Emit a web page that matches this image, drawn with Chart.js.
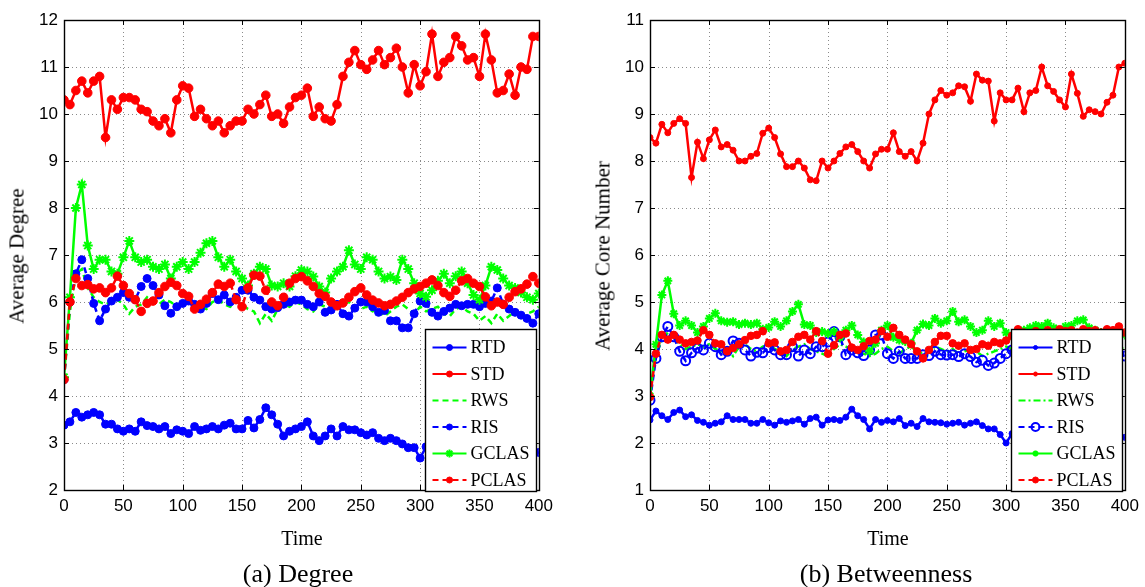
<!DOCTYPE html>
<html>
<head>
<meta charset="utf-8">
<title>Average Degree / Average Core Number</title>
<script src="https://cdn.jsdelivr.net/npm/chart.js"></script>
<style>
  body { margin: 0; background: #fff; }
  #wrap { position: relative; width: 1145px; height: 587px; overflow: hidden; font-family: "Liberation Serif", "Times New Roman", serif; color: #000; }
  canvas { position: absolute; top: 0; }
  .lbl { position: absolute; white-space: nowrap; transform: translate(-50%, -50%); }
  .ylbl { transform: translate(-50%, -50%) rotate(-90deg); }
</style>
</head>
<body>
<div id="wrap">
  <canvas id="degreeChart" width="559" height="587" style="left:0"></canvas>
  <canvas id="betweenChart" width="559" height="587" style="left:586px"></canvas>

  <div class="lbl ylbl" style="left:17px;top:256px;font-size:21px">Average Degree</div>
  <div class="lbl" style="left:302px;top:538px;font-size:20px">Time</div>
  <div class="lbl" style="left:298px;top:574px;font-size:26px">(a) Degree</div>

  <div class="lbl ylbl" style="left:603px;top:256px;font-size:21px">Average Core Number</div>
  <div class="lbl" style="left:888px;top:538px;font-size:20px">Time</div>
  <div class="lbl" style="left:886px;top:574px;font-size:26px">(b) Betweenness</div>
</div>

<script>
// time steps (every 5 units)
const times = [0, 5, 10, 15, 20, 25, 30, 35, 40, 45, 50, 55, 60, 65, 70, 75, 80, 85, 90, 95,
  100, 105, 110, 115, 120, 125, 130, 135, 140, 145, 150, 155, 160, 165, 170, 175, 180, 185, 190, 195,
  200, 205, 210, 215, 220, 225, 230, 235, 240, 245, 250, 255, 260, 265, 270, 275, 280, 285, 290, 295,
  300, 305, 310, 315, 320, 325, 330, 335, 340, 345, 350, 355, 360, 365, 370, 375, 380, 385, 390, 395, 400];

const xTicks = [0, 50, 100, 150, 200, 250, 300, 350, 400];
const degreeTicks = [2, 3, 4, 5, 6, 7, 8, 9, 10, 11, 12];
const betweenTicks = [1, 2, 3, 4, 5, 6, 7, 8, 9, 10, 11];

// (a) Degree
const degRTD = [3.38, 3.45, 3.65, 3.55, 3.6, 3.65, 3.6, 3.4, 3.4, 3.3,
  3.25, 3.3, 3.25, 3.45, 3.37, 3.35, 3.3, 3.35, 3.2, 3.28,
  3.25, 3.2, 3.35, 3.27, 3.3, 3.35, 3.3, 3.38, 3.42, 3.3,
  3.3, 3.48, 3.32, 3.5, 3.75, 3.6, 3.4, 3.15, 3.25, 3.3,
  3.35, 3.45, 3.15, 3.05, 3.15, 3.3, 3.15, 3.35, 3.28, 3.28,
  3.22, 3.17, 3.22, 3.1, 3.05, 3.1, 3.05, 2.98, 2.9, 2.9,
  2.68, 2.92, 2.9, 2.85, 2.88, 2.82, 2.86, 2.8, 2.84, 2.78,
  2.82, 2.8, 2.85, 2.78, 2.82, 2.8, 2.78, 2.83, 2.8, 2.78, 2.8];

const degSTD = [10.3, 10.2, 10.5, 10.7, 10.45, 10.7, 10.8, 9.5, 10.3, 10.1,
  10.35, 10.35, 10.3, 10.1, 10.05, 9.85, 9.75, 9.9, 9.6, 10.3,
  10.6, 10.55, 9.95, 10.1, 9.9, 9.75, 9.85, 9.6, 9.75, 9.85,
  9.85, 10.1, 10.0, 10.2, 10.4, 9.95, 10.0, 9.8, 10.15, 10.35,
  10.4, 10.55, 9.95, 10.15, 9.9, 9.85, 10.2, 10.8, 11.1, 11.35,
  11.05, 10.95, 11.15, 11.35, 11.05, 11.2, 11.4, 11.0, 10.45, 11.05,
  10.6, 10.9, 11.7, 10.8, 11.1, 11.2, 11.65, 11.45, 11.15, 11.2,
  10.8, 11.7, 11.15, 10.45, 10.5, 10.85, 10.4, 11.0, 10.95, 11.65, 11.65];

const degRWS = [4.35, 5.8, 6.6, 6.7, 6.3, 6.1, 6.0, 5.95, 6.0, 6.05,
  5.95, 5.75, 5.9, 5.95, 6.1, 6.0, 5.95, 6.05, 6.0, 5.9,
  5.95, 6.05, 6.0, 5.9, 5.85, 6.0, 6.05, 5.95, 5.9, 6.0,
  5.95, 5.85, 5.8, 5.55, 5.75, 5.6, 5.85, 5.95, 5.9, 6.0,
  5.95, 5.85, 5.8, 5.95, 5.9, 5.8, 5.85, 5.95, 6.0, 5.9,
  5.85, 5.9, 5.8, 5.85, 5.7, 5.8, 5.9, 5.95, 5.85, 5.75,
  5.9, 5.8, 5.85, 5.9, 5.75, 5.7, 5.85, 5.9, 5.8, 5.75,
  5.6, 5.7, 5.55, 5.75, 5.6, 5.7, 5.8, 5.65, 5.75, 5.8, 5.9];

const degRIS = [4.35, 6.0, 6.6, 6.9, 6.5, 5.97, 5.6, 5.85, 6.02, 6.1,
  6.2, 6.1, 6.05, 6.33, 6.5, 6.35, 6.15, 5.92, 5.76, 5.9,
  5.97, 6.02, 5.95, 5.85, 5.97, 6.18, 6.05, 6.15, 6.0, 6.1,
  6.25, 6.25, 6.1, 6.04, 5.9, 5.85, 5.88, 5.95, 6.0, 6.04,
  6.04, 5.95, 5.9, 6.0, 5.78, 5.83, 5.95, 5.75, 5.7, 5.87,
  6.0, 6.0, 5.9, 5.78, 5.82, 5.6, 5.6, 5.45, 5.45, 5.75,
  6.02, 5.97, 5.78, 5.7, 5.8, 5.87, 5.95, 5.92, 5.95, 5.95,
  5.9, 5.97, 6.02, 6.3, 5.95, 5.85, 5.78, 5.72, 5.65, 5.55, 5.75];

const degGCLAS = [4.4, 6.1, 8.0, 8.5, 7.2, 6.7, 6.9, 6.9, 6.65, 6.6,
  6.95, 7.3, 6.95, 6.85, 6.9, 6.75, 6.7, 6.8, 6.5, 6.75,
  6.85, 6.7, 6.85, 7.05, 7.25, 7.3, 6.95, 6.75, 6.9, 6.65,
  6.5, 6.35, 6.6, 6.75, 6.7, 6.35, 6.33, 6.4, 6.33, 6.55,
  6.68, 6.65, 6.54, 6.33, 6.2, 6.5, 6.65, 6.75, 7.1, 6.8,
  6.7, 6.95, 6.9, 6.65, 6.5, 6.54, 6.47, 6.9, 6.7, 6.4,
  6.18, 6.11, 6.25, 6.45, 6.6, 6.4, 6.55, 6.65, 6.4, 6.15,
  6.05, 6.35, 6.75, 6.68, 6.5, 6.35, 6.3, 6.2, 6.1, 6.05, 6.18];

const degPCLAS = [4.35, 6.0, 6.5, 6.35, 6.37, 6.28, 6.3, 6.2, 6.3, 6.55,
  6.35, 6.18, 6.05, 5.8, 5.97, 6.02, 6.2, 6.33, 6.42, 6.35,
  6.18, 6.12, 5.85, 5.95, 6.06, 6.2, 6.38, 6.33, 6.4, 6.05,
  5.9, 6.3, 6.57, 6.55, 6.25, 6.0, 5.92, 6.1, 6.4, 6.5,
  6.54, 6.45, 6.33, 6.18, 6.12, 6.0, 5.92, 5.98, 6.1, 6.22,
  6.3, 6.15, 6.04, 5.98, 5.92, 5.95, 6.02, 6.1, 6.2, 6.28,
  6.33, 6.4, 6.47, 6.35, 6.2, 6.12, 6.25, 6.45, 6.5, 6.4,
  6.33, 6.11, 5.92, 6.0, 5.95, 6.1, 6.22, 6.28, 6.38, 6.54, 6.4];

// (b) Betweenness
const btwRTD = [2.49, 2.68, 2.58, 2.5, 2.65, 2.7, 2.56, 2.6, 2.48, 2.44,
  2.38, 2.42, 2.45, 2.58, 2.5, 2.5, 2.5, 2.42, 2.42, 2.5,
  2.43, 2.38, 2.47, 2.44, 2.47, 2.5, 2.4, 2.52, 2.55, 2.38,
  2.49, 2.5, 2.48, 2.55, 2.72, 2.58, 2.5, 2.3, 2.5, 2.44,
  2.48, 2.45, 2.52, 2.37, 2.42, 2.35, 2.52, 2.45, 2.44, 2.43,
  2.4, 2.42, 2.44, 2.38, 2.42, 2.45, 2.37, 2.3, 2.3, 2.18,
  2.0, 2.2, 2.18, 2.15, 2.17, 2.14, 2.16, 2.12, 2.15, 2.13,
  2.1, 2.14, 2.12, 2.1, 2.13, 2.11, 2.1, 2.13, 2.12, 2.1, 2.12];

const btwSTD = [8.5, 8.38, 8.78, 8.6, 8.8, 8.9, 8.8, 7.65, 8.4, 8.05,
  8.45, 8.66, 8.3, 8.35, 8.23, 8.0, 8.0, 8.1, 8.16, 8.59,
  8.7, 8.5, 8.15, 7.88, 7.88, 8.0, 7.85, 7.6, 7.58, 8.0,
  7.85, 8.0, 8.16, 8.3, 8.35, 8.2, 8.0, 7.85, 8.15, 8.25,
  8.25, 8.6, 8.2, 8.1, 8.2, 8.0, 8.38, 9.0, 9.3, 9.5,
  9.4, 9.45, 9.6, 9.58, 9.27, 9.85, 9.72, 9.7, 8.85, 9.45,
  9.3, 9.3, 9.55, 9.05, 9.45, 9.5, 10.0, 9.6, 9.48, 9.3,
  9.15, 9.85, 9.44, 8.95, 9.09, 9.05, 9.0, 9.25, 9.4, 10.0, 10.08];

const btwRWS = [3.0, 3.85, 4.2, 4.35, 4.25, 4.1, 4.0, 4.05, 4.1, 4.05,
  4.1, 4.0, 3.95, 4.0, 3.85, 4.05, 4.1, 4.0, 3.95, 4.05,
  4.1, 4.0, 3.95, 3.85, 4.0, 4.05, 4.1, 4.0, 3.95, 3.9,
  3.85, 4.0, 4.1, 4.05, 4.0, 3.95, 3.9, 3.85, 3.9, 4.0,
  4.05, 3.95, 3.9, 4.0, 4.05, 3.95, 3.9, 3.95, 4.05, 4.0,
  3.95, 4.0, 3.9, 3.95, 4.0, 3.95, 3.85, 3.9, 3.95, 4.0,
  4.05, 4.0, 3.95, 4.0, 4.05, 4.0, 3.95, 4.0, 4.05, 4.0,
  3.95, 4.0, 4.05, 4.0, 3.95, 4.0, 4.05, 4.0, 3.95, 4.0, 4.05];

const btwRIS = [2.91, 3.8, 4.26, 4.48, 4.26, 3.95, 3.75, 3.92, 4.02, 3.98,
  4.12, 4.05, 3.88, 3.95, 4.17, 4.12, 3.98, 3.85, 3.93, 3.92,
  4.03, 3.98, 3.88, 3.88, 4.05, 3.85, 3.98, 3.9, 4.05, 4.05,
  4.15, 4.37, 4.26, 3.88, 3.98, 3.92, 3.86, 3.98, 4.3, 4.3,
  3.9, 3.8, 3.95, 3.8, 3.8, 3.8, 3.88, 3.86, 3.95, 3.88,
  3.87, 3.88, 3.84, 3.9, 3.84, 3.72, 3.76, 3.65, 3.7, 3.8,
  3.9, 3.98, 3.9, 3.85, 3.9, 3.95, 3.88, 3.92, 3.95, 3.9,
  3.95, 3.92, 3.88, 3.9, 3.95, 3.9, 3.85, 3.9, 3.95, 3.9, 3.85];

const btwGCLAS = [3.0, 4.1, 5.15, 5.45, 4.75, 4.5, 4.6, 4.5, 4.35, 4.48,
  4.65, 4.76, 4.6, 4.57, 4.58, 4.52, 4.55, 4.52, 4.55, 4.42,
  4.46, 4.58, 4.48, 4.6, 4.8, 4.95, 4.52, 4.5, 4.35, 4.37,
  4.33, 4.37, 4.24, 4.4, 4.5, 4.3, 4.15, 3.95, 4.12, 4.4,
  4.5, 4.25, 4.19, 4.16, 4.12, 4.4, 4.53, 4.5, 4.65, 4.55,
  4.6, 4.8, 4.58, 4.62, 4.48, 4.35, 4.4, 4.6, 4.48, 4.55,
  4.35, 4.26, 4.35, 4.4, 4.45, 4.5, 4.48, 4.55, 4.45, 4.4,
  4.48, 4.5, 4.6, 4.62, 4.45, 4.4, 4.35, 4.3, 4.35, 4.4, 4.3];

const btwPCLAS = [2.98, 3.9, 4.3, 4.2, 4.3, 4.2, 4.12, 4.15, 4.18, 4.4,
  4.3, 4.12, 4.1, 3.95, 4.02, 4.1, 4.19, 4.28, 4.3, 4.38,
  4.12, 4.14, 3.95, 3.98, 4.15, 4.26, 4.3, 4.2, 4.38, 4.17,
  3.9, 4.08, 4.3, 4.33, 4.03, 3.98, 4.06, 4.17, 4.2, 4.38,
  4.26, 4.45, 4.3, 4.2, 4.1, 3.95, 3.8, 3.98, 4.15, 4.28,
  4.28, 4.12, 4.07, 4.12, 3.98, 4.0, 4.1, 4.07, 4.15, 4.12,
  4.18, 4.28, 4.42, 4.35, 4.3, 4.38, 4.32, 4.4, 4.35, 4.42,
  4.38, 4.4, 4.35, 4.42, 4.38, 4.4, 4.35, 4.42, 4.4, 4.48, 4.35];

const BLUE = "#0000ff";
const RED = "#ff0000";
const GREEN = "#00ff00";

function toPoints(vals) {
  return times.map((t, i) => ({ x: t, y: vals[i] }));
}

// one dataset per line; order: lower is drawn on top (like MATLAB's last plotted)
function line(label, vals, color, opts) {
  return Object.assign({
    label: label,
    data: toPoints(vals),
    borderColor: color,
    backgroundColor: color,
    borderWidth: 2.5,
    borderDash: [],
    pointStyle: "circle",
    pointRadius: 3,
    pointBackgroundColor: color,
    pointBorderColor: color,
    pointBorderWidth: 1,
    tension: 0,
  }, opts);
}

// dotted grid, box with inward ticks, legend inside the plot
const matlabFrame = {
  id: "matlabFrame",
  beforeDatasetsDraw(chart) {
    const { ctx, chartArea: a, scales } = chart;
    ctx.save();
    ctx.strokeStyle = "#8a8a8a";
    ctx.lineWidth = 1;
    ctx.setLineDash([1, 3]);
    scales.x.ticks.forEach((tk) => {
      const px = Math.round(scales.x.getPixelForValue(tk.value)) + 0.5;
      ctx.beginPath(); ctx.moveTo(px, a.top); ctx.lineTo(px, a.bottom); ctx.stroke();
    });
    scales.y.ticks.forEach((tk) => {
      const py = Math.round(scales.y.getPixelForValue(tk.value)) + 0.5;
      ctx.beginPath(); ctx.moveTo(a.left, py); ctx.lineTo(a.right, py); ctx.stroke();
    });
    ctx.restore();
  },
  afterDatasetsDraw(chart) {
    const { ctx, chartArea: a, scales } = chart;
    ctx.save();
    ctx.setLineDash([]);
    ctx.strokeStyle = "#000";
    ctx.lineWidth = 1;
    scales.x.ticks.forEach((tk) => {
      const px = Math.round(scales.x.getPixelForValue(tk.value)) + 0.5;
      ctx.beginPath();
      ctx.moveTo(px, a.bottom); ctx.lineTo(px, a.bottom - 5);
      ctx.moveTo(px, a.top); ctx.lineTo(px, a.top + 5);
      ctx.stroke();
    });
    scales.y.ticks.forEach((tk) => {
      const py = Math.round(scales.y.getPixelForValue(tk.value)) + 0.5;
      ctx.beginPath();
      ctx.moveTo(a.left, py); ctx.lineTo(a.left + 5, py);
      ctx.moveTo(a.right, py); ctx.lineTo(a.right - 5, py);
      ctx.stroke();
    });
    ctx.lineWidth = 1.4;
    ctx.strokeRect(Math.round(a.left) + 0.5, Math.round(a.top) + 0.5,
      Math.round(a.right - a.left), Math.round(a.bottom - a.top));

    // legend box
    const w = 111, h = 162;
    const bx = Math.round(a.right) - 3 - w + 0.5;
    const by = Math.round(a.bottom) + 1 - h + 0.5;
    ctx.fillStyle = "#fff";
    ctx.fillRect(bx, by, w, h);
    ctx.strokeStyle = "#000";
    ctx.lineWidth = 1.4;
    ctx.strokeRect(bx, by, w, h);
    ctx.font = '18px "Liberation Serif", "Times New Roman", serif';
    ctx.textBaseline = "middle";
    chart.data.datasets.forEach((ds, i) => {
      const y = by + 18 + i * 26.5;
      ctx.strokeStyle = ds.borderColor;
      ctx.lineWidth = 2;
      ctx.setLineDash(ds.borderDash || []);
      ctx.beginPath(); ctx.moveTo(bx + 7, y); ctx.lineTo(bx + 41, y); ctx.stroke();
      ctx.setLineDash([]);
      drawMarker(ctx, ds, bx + 24, y, ds.legendRadius);
      ctx.fillStyle = "#000";
      ctx.fillText(ds.label, bx + 45, y + 1);
    });
    ctx.restore();
  },
};

function drawMarker(ctx, ds, x, y, r) {
  if (!ds.pointRadius) return;
  ctx.lineWidth = ds.pointBorderWidth;
  ctx.strokeStyle = ds.pointBorderColor;
  if (ds.pointStyle === "star") {
    ctx.beginPath();
    for (let k = 0; k < 4; k++) {
      const ang = k * Math.PI / 4;
      ctx.moveTo(x - r * Math.cos(ang), y - r * Math.sin(ang));
      ctx.lineTo(x + r * Math.cos(ang), y + r * Math.sin(ang));
    }
    ctx.stroke();
    return;
  }
  ctx.beginPath();
  ctx.arc(x, y, r, 0, Math.PI * 2);
  if (ds.pointBackgroundColor !== "transparent") {
    ctx.fillStyle = ds.pointBackgroundColor;
    ctx.fill();
  }
  ctx.stroke();
}

function makeChart(canvasId, datasets, yTicks) {
  const tickFont = { family: '"Liberation Sans", Arial, sans-serif', size: 17 };
  return new Chart(document.getElementById(canvasId), {
    type: "line",
    data: { datasets: datasets },
    options: {
      responsive: false,
      animation: false,
      layout: { padding: { top: 20, right: 19, bottom: 0, left: 0 } },
      plugins: {
        legend: { display: false },
        tooltip: { enabled: false },
      },
      scales: {
        x: {
          type: "linear",
          min: xTicks[0],
          max: xTicks[xTicks.length - 1],
          afterBuildTicks(scale) { scale.ticks = xTicks.map((v) => ({ value: v })); },
          afterFit(scale) { scale.height = 97; },
          ticks: { color: "#000", font: tickFont, padding: 6, maxRotation: 0 },
          grid: { display: false, drawTicks: false },
          border: { display: false },
        },
        y: {
          min: yTicks[0],
          max: yTicks[yTicks.length - 1],
          afterBuildTicks(scale) { scale.ticks = yTicks.map((v) => ({ value: v })); },
          afterFit(scale) { scale.width = 64; },
          ticks: { color: "#000", font: tickFont, padding: 6 },
          grid: { display: false, drawTicks: false },
          border: { display: false },
        },
      },
    },
    plugins: [matlabFrame],
  });
}

makeChart("degreeChart", [
  line("RTD", degRTD, BLUE, { order: 5, pointRadius: 4, legendRadius: 3 }),
  line("STD", degSTD, RED, { order: 4, pointRadius: 4.3, legendRadius: 3 }),
  line("RWS", degRWS, GREEN, { order: 3, borderDash: [6, 4], pointRadius: 0 }),
  line("RIS", degRIS, BLUE, { order: 2, borderDash: [6, 4], pointRadius: 4, legendRadius: 3 }),
  line("GCLAS", degGCLAS, GREEN, { order: 1, pointStyle: "star", pointRadius: 5, pointBorderWidth: 2, legendRadius: 4 }),
  line("PCLAS", degPCLAS, RED, { order: 0, borderDash: [6, 4], pointRadius: 4.3, legendRadius: 3 }),
], degreeTicks);

makeChart("betweenChart", [
  line("RTD", btwRTD, BLUE, { order: 5, pointRadius: 3, legendRadius: 2 }),
  line("STD", btwSTD, RED, { order: 4, pointRadius: 3, legendRadius: 2 }),
  line("RWS", btwRWS, GREEN, { order: 3, borderDash: [7, 3, 2, 3], pointRadius: 0 }),
  line("RIS", btwRIS, BLUE, { order: 2, borderDash: [6, 4], pointRadius: 4.5, pointBackgroundColor: "transparent", pointBorderWidth: 2, legendRadius: 4 }),
  line("GCLAS", btwGCLAS, GREEN, { order: 1, pointStyle: "star", pointRadius: 4.5, pointBorderWidth: 2, legendRadius: 3 }),
  line("PCLAS", btwPCLAS, RED, { order: 0, borderDash: [6, 4], pointRadius: 3.8, legendRadius: 3 }),
], betweenTicks);
</script>
</body>
</html>
